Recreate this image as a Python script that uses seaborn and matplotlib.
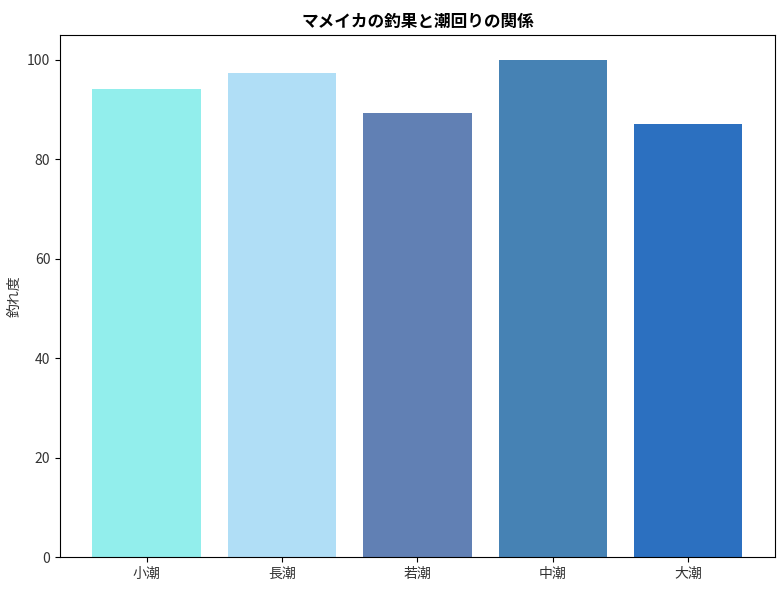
import matplotlib
matplotlib.use("Agg")
import matplotlib.pyplot as plt
import seaborn as sns
import pandas as pd

categories = ["小潮", "長潮", "若潮", "中潮", "大潮"]
values = [94.1, 97.3, 89.3, 100.0, 87.1]
colors = ["#92EEEC", "#B0DEF6", "#6180B4", "#4682B4", "#2C70C0"]

plt.rcParams['font.family'] = ['Noto Sans CJK JP', 'DejaVu Sans']

df = pd.DataFrame({"潮回り": categories, "釣れ度": values})

fig, ax = plt.subplots(figsize=(7.84, 5.9), dpi=100)
sns.barplot(data=df, x="潮回り", y="釣れ度", hue="潮回り", palette=colors,
            legend=False, ax=ax, width=0.8, saturation=1)
ax.set_xlim(-0.64, 4.64)
ax.set_ylim(0, 105)
ax.set_xlabel("")
ax.set_ylabel("釣れ度", fontsize=10, color="#333333")
ax.set_title("マメイカの釣果と潮回りの関係", fontsize=12, fontweight="bold")
ax.tick_params(labelsize=10, labelcolor="#333333")
fig.subplots_adjust(left=0.0765, right=0.9885, top=0.9407, bottom=0.0559)
fig.savefig("out.png", dpi=100)
